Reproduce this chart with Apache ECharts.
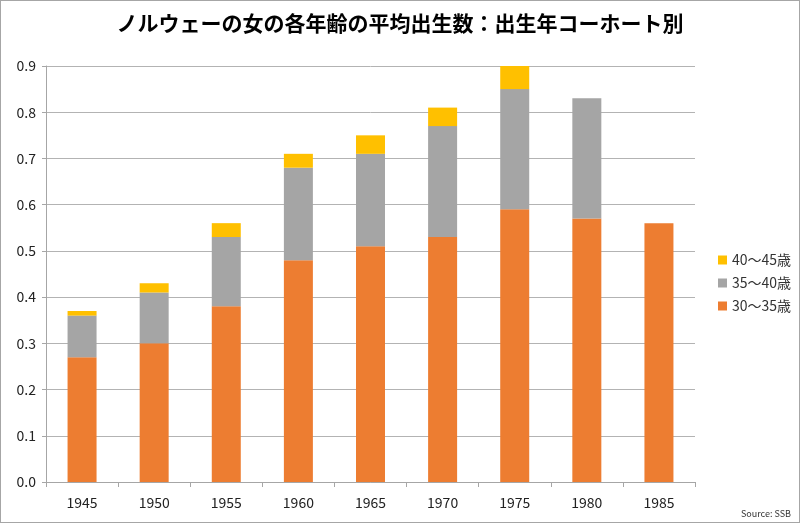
<!DOCTYPE html>
<html><head><meta charset="utf-8">
<script src="https://cdn.jsdelivr.net/npm/echarts@6/dist/echarts.min.js"></script>
<style>
html,body{margin:0;padding:0;background:#fff;}
#c{position:absolute;left:0;top:0;width:798px;height:521px;border:1px solid #a6a6a6;}
</style></head><body>
<div id="c"></div>
<script>
const categories = ['1945','1950','1955','1960','1965','1970','1975','1980','1985'];
const age30_35 = [0.27, 0.30, 0.38, 0.48, 0.51, 0.53, 0.59, 0.57, 0.56];
const age35_40 = [0.09, 0.11, 0.15, 0.20, 0.20, 0.24, 0.26, 0.26, null];
const age40_45 = [0.01, 0.02, 0.03, 0.03, 0.04, 0.04, 0.05, null, null];
const yTicks = [0, 0.1, 0.2, 0.3, 0.4, 0.5, 0.6, 0.7, 0.8, 0.9];
const seriesNames = ['30～35歳', '35～40歳', '40～45歳'];

const chart = echarts.init(document.getElementById('c'), null, {renderer:'canvas'});
const font = '"Noto Sans CJK JP", "Noto Sans", sans-serif';
chart.setOption({
  animation:false,
  textStyle:{fontFamily:font},
  title:{text:'ノルウェーの女の各年齢の平均出生数：出生年コーホート別', left:'center', top:7,
    textStyle:{fontSize:21, fontWeight:'bold', color:'#000', fontFamily:font}},
  graphic:[{type:'text', right:8, bottom:4, style:{text:'Source: SSB', fontSize:9, fill:'#333', fontFamily:font}}],
  legend:{orient:'vertical', left:712, top:247, itemWidth:9, itemHeight:9, itemGap:9, icon:'rect',
    data:[seriesNames[2], seriesNames[1], seriesNames[0]],
    textStyle:{fontSize:14, color:'#333', fontFamily:font}},
  grid:{left:45, right:104, top:65, bottom:40},
  xAxis:{type:'category', data:categories,
    axisLine:{lineStyle:{color:'#a6a6a6'}},
    axisTick:{show:true, length:5, lineStyle:{color:'#a6a6a6'}},
    axisLabel:{fontSize:14, color:'#222', margin:14}},
  yAxis:{type:'value', min:0, max:0.9, interval:0.1,
    axisLine:{show:true, lineStyle:{color:'#a6a6a6'}},
    axisTick:{show:true, inside:false, length:4, lineStyle:{color:'#a6a6a6'}},
    splitLine:{lineStyle:{color:'#b3b3b3'}},
    axisLabel:{fontSize:14, color:'#222', margin:10, formatter:v=>v.toFixed(1)}},
  series:[
    {name:seriesNames[0], type:'bar', stack:'a', data:age30_35, barWidth:29, itemStyle:{color:'#ED7D31'}},
    {name:seriesNames[1], type:'bar', stack:'a', data:age35_40, barWidth:29, itemStyle:{color:'#A5A5A5'}},
    {name:seriesNames[2], type:'bar', stack:'a', data:age40_45, barWidth:29, itemStyle:{color:'#FFC000'}}
  ]
});
</script></body></html>
